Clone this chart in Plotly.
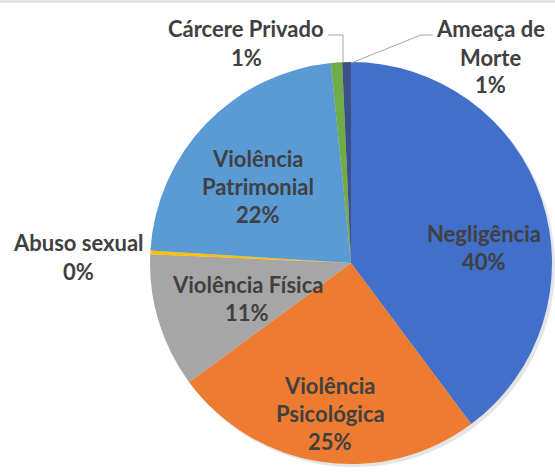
import plotly.graph_objects as go

categories = ["Negligência", "Violência Psicológica", "Violência Física", "Abuso sexual",
              "Violência Patrimonial", "Cárcere Privado", "Ameaça de Morte"]
values = [39.8, 25.1, 10.8, 0.3, 22.4, 0.9, 0.7]
colors = ["#416FC9", "#EE7C30", "#A6A6A6", "#FFC000", "#5B9BD5", "#70AD47", "#3C5088"]

# label line breaks for each category (text layout)
label_lines = {
    "Negligência": ["Negligência"],
    "Violência Psicológica": ["Violência", "Psicológica"],
    "Violência Física": ["Violência Física"],
    "Abuso sexual": ["Abuso sexual"],
    "Violência Patrimonial": ["Violência", "Patrimonial"],
    "Cárcere Privado": ["Cárcere Privado"],
    "Ameaça de Morte": ["Ameaça de", "Morte"],
}
# first-line centre of each label, in pixels (x from left, y from top)
label_pos = {
    "Negligência": (484, 233),
    "Violência Psicológica": (330, 385),
    "Violência Física": (247, 284),
    "Abuso sexual": (78, 243),
    "Violência Patrimonial": (258, 158),
    "Cárcere Privado": (246, 29),
    "Ameaça de Morte": (490, 29),
}

W, H = 555, 472
LINE = 28
total = sum(values)

fig = go.Figure()
# soft shadow
fig.add_trace(go.Pie(
    values=[1], marker=dict(colors=["rgba(0,0,0,0.10)"], line=dict(width=0)),
    textinfo="none", hoverinfo="skip", showlegend=False, sort=False,
    domain=dict(x=[153 / W, 555 / W], y=[1 - 467 / H, 1 - 65 / H]),
))
fig.add_trace(go.Pie(
    labels=categories, values=values, sort=False, direction="clockwise", rotation=0,
    marker=dict(colors=colors, line=dict(width=0)),
    textinfo="none", showlegend=False,
    domain=dict(x=[150 / W, 552 / W], y=[1 - 464 / H, 1 - 62 / H]),
))

annotations = []
for cat, v in zip(categories, values):
    lines = label_lines[cat] + [f"{round(v / total * 100)}%"]
    x0, y0 = label_pos[cat]
    for i, ln in enumerate(lines):
        annotations.append(dict(
            x=x0 / W, y=1 - (y0 + i * LINE) / H, xref="paper", yref="paper",
            text=f"<b>{ln}</b>", showarrow=False, xanchor="center", yanchor="middle",
            font=dict(family="Lato, Open Sans, sans-serif", size=22, color="#404040"),
        ))

shapes = [
    dict(type="line", xref="paper", yref="paper", x0=0, x1=1, y0=1 - 1.5 / H, y1=1 - 1.5 / H,
         line=dict(color="#D9D9D9", width=2)),
    dict(type="path", xref="paper", yref="paper",
         path=f"M {328 / W},{1 - 35 / H} L {343 / W},{1 - 35 / H} L {343 / W},{1 - 62 / H}",
         line=dict(color="#A6A6A6", width=1)),
    dict(type="path", xref="paper", yref="paper",
         path=f"M {433 / W},{1 - 35 / H} L {421 / W},{1 - 35 / H} L {351 / W},{1 - 63 / H}",
         line=dict(color="#A6A6A6", width=1)),
]

fig.update_layout(
    width=W, height=H, margin=dict(l=0, r=0, t=0, b=0),
    paper_bgcolor="white", plot_bgcolor="white",
    annotations=annotations, shapes=shapes,
)
fig.write_html("out.html", config={"displayModeBar": False},
               post_script="document.body.style.margin='0';")
